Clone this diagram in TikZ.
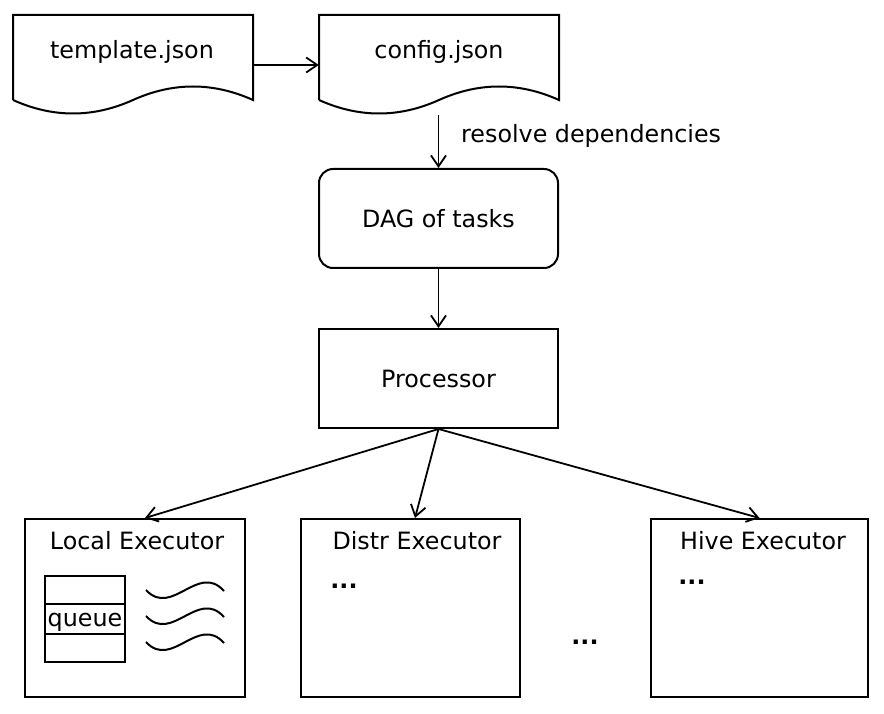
\documentclass[tikz,border=0pt]{standalone}
\usepackage{fontspec}
\setmainfont{DejaVu Sans}
\usetikzlibrary{arrows.meta}
\begin{document}
\begin{tikzpicture}[x=1pt,y=-1pt,
  every node/.style={font=\fontsize{23.8}{28}\selectfont, inner sep=0pt},
  shape line/.style={line width=2pt, line join=miter},
  box/.style={draw, line width=2pt, rectangle},
  conn/.style={line width=1.8pt, -{Straight Barb[length=11pt,width=15pt,line width=1.8pt]}},
  txt/.style={text=black}
]
\useasboundingbox (0,0) rectangle (884,714);

% document shapes
\draw[shape line] (13,100) -- (13,15) -- (253,15) -- (253,100)
   .. controls (213,82) and (173,82) .. (133,100)
   .. controls (93,118) and (53,118) .. (13,100);
\node (tpl) [minimum width=240pt, minimum height=100pt] at (133,65) {};
\node[txt] (tpltxt) at (132,52) {template.json};

\draw[shape line] (319,100) -- (319,15) -- (559,15) -- (559,100)
   .. controls (519,82) and (479,82) .. (439,100)
   .. controls (399,118) and (359,118) .. (319,100);
\node (cfg) [minimum width=240pt, minimum height=100pt] at (439,65) {};
\node[txt] (cfgtxt) at (439,52) {config.json};

% DAG and processor
\node[box, rounded corners=14pt, minimum width=239pt, minimum height=99pt] (dag) at (438.5,218.5) {DAG of tasks};
\node[box, minimum width=239pt, minimum height=99pt] (proc) at (438.5,378.5) {Processor};

% executors
\node[box, minimum width=220pt, minimum height=178pt] (local) at (135,608) {};
\node[box, minimum width=219pt, minimum height=178pt] (distr) at (410.5,608) {};
\node[box, minimum width=217pt, minimum height=178pt] (hive) at (759.5,608) {};

\node (localt) at (137,541) {Local Executor};
\node (distrt) at (417,541) {Distr Executor};
\node (hivet) at (763,541) {Hive Executor};
\node (distrd) at (344,586) {\textbf{...}};
\node (hived) at (692,582) {\textbf{...}};
\node (midd) at (585,642) {\textbf{...}};

% queue
\draw[line width=2pt] (45,576) rectangle (125,662);
\draw[line width=2pt] (45,604) -- (125,604);
\draw[line width=2pt] (45,634) -- (125,634);
\node (queue) at (85,622) {queue};

% waves
\foreach \yy in {590,616,642}{
  \draw[line width=2pt] (146,\yy) .. controls (172,\yy+28) and (198,\yy-28) .. (224,\yy+1);
}

% connectors
\coordinate (cfgout) at (438.5,115);
\draw[conn] (tpl.east) -- (cfg.west);
\draw[conn] (cfgout) -- (dag.north);
\node[anchor=west] (resolve) at (461,136) {resolve dependencies};
\draw[conn] (dag.south) -- (proc.north);
\draw[conn] (proc.south) -- ([xshift=10pt]local.north);
\draw[conn] (proc.south) -- ([xshift=4.5pt]distr.north);
\draw[conn] (proc.south) -- (hive.north);
\end{tikzpicture}
\end{document}
